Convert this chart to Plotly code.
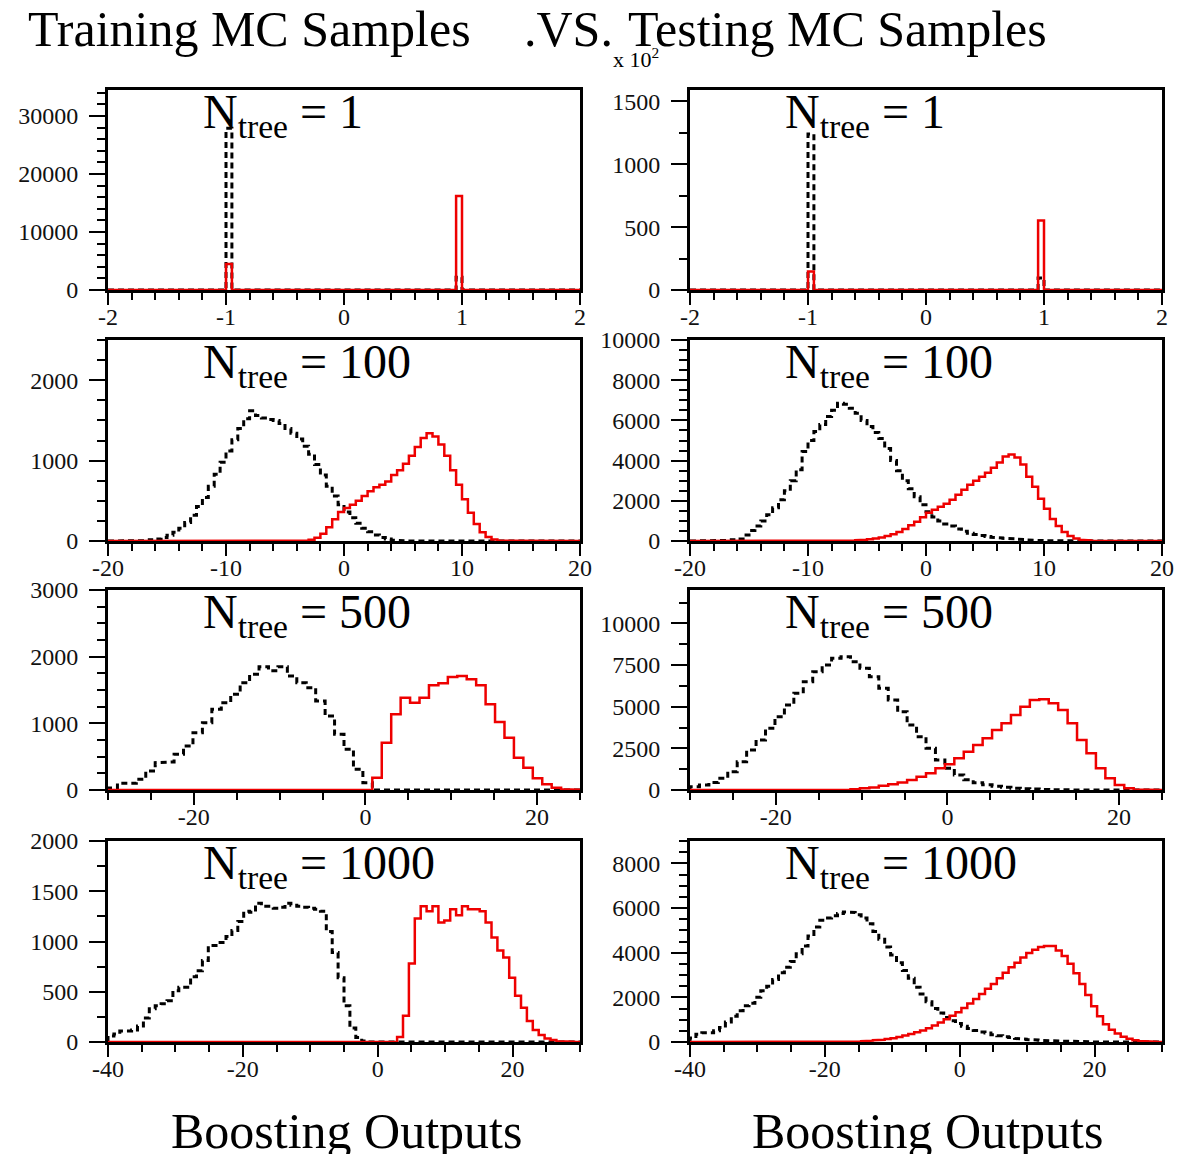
import plotly.graph_objects as go

# ---------------- data ----------------
# N_tree = 1 : two isolated bins (lower edges), width 0.05
nt1_bin_lo = [-1.0, 0.95]
nt1_bin_w = 0.05
nt1_train_bkg = [27900, 2200]
nt1_train_sig = [4500, 16200]
nt1_test_bkg = [1240, 96]      # in units of 10^2
nt1_test_sig = [147, 552]      # in units of 10^2

# N_tree = 100 : bins of width 0.5
nt100_bin_w = 0.5
nt100_train_bkg_start = -17.0
nt100_train_bkg = [5, 15, 25, 45, 70, 110, 160, 230, 320, 430, 540, 680, 830, 980, 1120,
                   1260, 1400, 1520, 1620, 1560, 1530, 1510, 1500, 1460, 1400, 1340, 1270,
                   1180, 1080, 950, 820, 680, 560, 450, 360, 290, 220, 160, 115, 75, 45, 25, 12, 5]
nt100_train_sig_start = -3.5
nt100_train_sig = [5, 15, 40, 90, 170, 270, 360, 410, 450, 500, 560, 620, 670, 700, 740, 820,
                   880, 960, 1060, 1170, 1280, 1340, 1300, 1200, 1060, 880, 700, 520, 350, 210,
                   110, 50, 20, 5]
nt100_test_bkg_start = -17.0
nt100_test_bkg = [30, 60, 100, 300, 520, 750, 1000, 1300, 1650, 2050, 2500, 3000, 3550, 4450,
                  5000, 5450, 5800, 6200, 6500, 6850, 6800, 6600, 6350, 6000, 5700, 5400, 5100,
                  4600, 4000, 3500, 3000, 2600, 2200, 1800, 1450, 1200, 1000, 850, 750, 600, 480,
                  380, 320, 270, 220, 180, 150, 130, 110, 90, 70, 50, 35, 20, 10]
nt100_test_sig_start = -7.5
nt100_test_sig = [10, 20, 30, 45, 65, 90, 130, 180, 250, 340, 450, 600, 780, 960, 1180, 1400,
                  1550, 1700, 1850, 2050, 2300, 2550, 2800, 3000, 3200, 3400, 3650, 3900, 4200,
                  4300, 4150, 3800, 3200, 2700, 2100, 1600, 1100, 750, 450, 250, 130, 60, 25, 8]

# N_tree = 500 : bins of width 1.1
nt500_bin_w = 1.1
nt500_train_bkg_start = -30.0
nt500_train_bkg = [30, 100, 100, 160, 285, 410, 420, 535, 660, 860, 1010, 1210, 1310, 1435,
                   1610, 1735, 1850, 1790, 1850, 1710, 1610, 1535, 1335, 1110, 835, 610, 310, 110]
nt500_train_sig_start = 0.8
nt500_train_sig = [185, 710, 1135, 1385, 1310, 1385, 1570, 1600, 1695, 1710, 1660, 1570, 1285,
                   1020, 785, 485, 335, 175, 85, 35, 10, 3]
nt500_test_bkg_start = -30.0
nt500_test_bkg = [200, 300, 450, 700, 1100, 1700, 2400, 3000, 3700, 4400, 5100, 5800, 6500,
                  7100, 7500, 7900, 8000, 7700, 7300, 6800, 6100, 5400, 4700, 3900, 3200, 2500,
                  1800, 1300, 900, 620, 430, 320, 230, 160, 110, 80, 55, 35, 20, 10, 5]
nt500_test_sig_start = -11.3
nt500_test_sig = [50, 100, 150, 250, 350, 450, 600, 800, 1000, 1300, 1550, 1900, 2300, 2700,
                  3100, 3600, 4000, 4500, 5000, 5400, 5450, 5200, 4800, 4000, 3000, 2200, 1300,
                  700, 300, 100, 30, 10]

# N_tree = 1000 : bins of width 0.875
nt1000_bin_w = 0.875
nt1000_train_bkg_start = -40.0
nt1000_train_bkg = [60, 80, 110, 110, 120, 160, 240, 330, 360, 380, 410, 510, 545, 545, 650,
                    710, 810, 960, 960, 990, 1050, 1110, 1200, 1300, 1290, 1380, 1350, 1350,
                    1330, 1340, 1380, 1360, 1350, 1340, 1330, 1320, 1300, 1100, 890, 640, 360,
                    140, 45, 10]
nt1000_train_sig_start = 2.875
nt1000_train_sig = [50, 260, 780, 1230, 1350, 1300, 1350, 1190, 1210, 1320, 1260, 1350, 1320,
                    1320, 1300, 1190, 1040, 910, 840, 640, 460, 340, 210, 120, 70, 35, 20, 8, 5, 2, 0]
nt1000_test_bkg_start = -40.0
nt1000_test_bkg = [180, 350, 410, 410, 500, 650, 900, 1150, 1400, 1620, 1730, 2000, 2300, 2500,
                   2800, 3100, 3350, 3600, 3950, 4300, 4750, 5150, 5450, 5550, 5650, 5750, 5820,
                   5800, 5700, 5550, 5300, 4950, 4600, 4250, 3900, 3550, 3200, 2850, 2450, 2150,
                   1800, 1500, 1300, 1100, 950, 830, 700, 600, 520, 450, 400, 330, 280, 240, 200,
                   160, 130, 110, 90, 75, 60, 50, 45, 40, 30, 20, 15, 10, 5]
nt1000_test_sig_start = -15.5
nt1000_test_sig = [20, 40, 60, 80, 100, 130, 170, 220, 290, 360, 440, 520, 620, 740, 870, 1020,
                   1170, 1330, 1520, 1720, 1930, 2150, 2380, 2600, 2850, 3100, 3350, 3550, 3780,
                   3980, 4130, 4250, 4300, 4300, 4100, 3850, 3500, 3080, 2600, 2100, 1600, 1150,
                   800, 550, 380, 240, 150, 80, 40, 20, 8, 3]

ntree_labels = ["1", "100", "500", "1000"]
title_left = "Training MC Samples"
title_mid = ".VS."
title_right = "Testing MC Samples"
xaxis_title = "Boosting Outputs"

# tick labels per row (x) and per panel (y)
row_xticks = [[-2, -1, 0, 1, 2], [-20, -10, 0, 10, 20], [-20, 0, 20], [-40, -20, 0, 20]]
panel_yticks = [
    [[0, 10000, 20000, 30000], [0, 500, 1000, 1500]],
    [[0, 1000, 2000], [0, 2000, 4000, 6000, 8000, 10000]],
    [[0, 1000, 2000, 3000], [0, 2500, 5000, 7500, 10000]],
    [[0, 500, 1000, 1500, 2000], [0, 2000, 4000, 6000, 8000]],
]

# ---------------- helpers ----------------
def contiguous(start, width, counts):
    return [start + i * width for i in range(len(counts))]


def hist_path(lows, width, counts, xmin, xmax):
    xs, ys = [xmin], [0]
    prev_end = None
    for lo, c in zip(lows, counts):
        if prev_end is None or abs(lo - prev_end) > 1e-9:
            if prev_end is not None:
                xs.append(prev_end); ys.append(0)
            xs.append(lo); ys.append(0)
        xs += [lo, lo + width]
        ys += [c, c]
        prev_end = lo + width
    xs += [prev_end, xmax]
    ys += [0, 0]
    return xs, ys


W, H = 1182, 1154
col_px = [(108, 580), (690, 1162)]
row_px = [(90, 290), (340, 541), (590, 790), (841, 1042)]

row_x = [
    dict(range=[-2, 2], minor=0.2, tick0=-2),
    dict(range=[-20, 20], minor=2, tick0=-20),
    dict(range=[-30, 25], minor=5, tick0=-30),
    dict(range=[-40, 30], minor=5, tick0=-40),
]
panel_y = [
    [dict(range=[0, 34500], minor=2000), dict(range=[0, 1590], minor=250)],
    [dict(range=[0, 2500], minor=250), dict(range=[0, 10000], minor=500)],
    [dict(range=[0, 3000], minor=250), dict(range=[0, 12000], minor=1250)],
    [dict(range=[0, 2000], minor=250), dict(range=[0, 9000], minor=500)],
]

panel_data = [
    [(nt1_bin_lo, nt1_bin_w, nt1_train_bkg, nt1_bin_lo, nt1_train_sig),
     (nt1_bin_lo, nt1_bin_w, nt1_test_bkg, nt1_bin_lo, nt1_test_sig)],
    [(contiguous(nt100_train_bkg_start, nt100_bin_w, nt100_train_bkg), nt100_bin_w, nt100_train_bkg,
      contiguous(nt100_train_sig_start, nt100_bin_w, nt100_train_sig), nt100_train_sig),
     (contiguous(nt100_test_bkg_start, nt100_bin_w, nt100_test_bkg), nt100_bin_w, nt100_test_bkg,
      contiguous(nt100_test_sig_start, nt100_bin_w, nt100_test_sig), nt100_test_sig)],
    [(contiguous(nt500_train_bkg_start, nt500_bin_w, nt500_train_bkg), nt500_bin_w, nt500_train_bkg,
      contiguous(nt500_train_sig_start, nt500_bin_w, nt500_train_sig), nt500_train_sig),
     (contiguous(nt500_test_bkg_start, nt500_bin_w, nt500_test_bkg), nt500_bin_w, nt500_test_bkg,
      contiguous(nt500_test_sig_start, nt500_bin_w, nt500_test_sig), nt500_test_sig)],
    [(contiguous(nt1000_train_bkg_start, nt1000_bin_w, nt1000_train_bkg), nt1000_bin_w, nt1000_train_bkg,
      contiguous(nt1000_train_sig_start, nt1000_bin_w, nt1000_train_sig), nt1000_train_sig),
     (contiguous(nt1000_test_bkg_start, nt1000_bin_w, nt1000_test_bkg), nt1000_bin_w, nt1000_test_bkg,
      contiguous(nt1000_test_sig_start, nt1000_bin_w, nt1000_test_sig), nt1000_test_sig)],
]

FONT = "Liberation Serif"
TICKFONT = dict(family=FONT, size=24, color="#111")
fig = go.Figure()
layout = dict(
    width=W, height=H, margin=dict(l=0, r=0, t=0, b=0, autoexpand=False),
    paper_bgcolor="white", plot_bgcolor="white", showlegend=False,
    font=dict(family=FONT, color="black"),
)
annotations = []

for r in range(4):
    for c in range(2):
        n = r * 2 + c + 1
        sfx = "" if n == 1 else str(n)
        x0, x1 = col_px[c]
        y0, y1 = row_px[r]
        xr = row_x[r]
        yr = panel_y[r][c]
        blo, bw, bkg, slo, sig = panel_data[r][c]
        bx, by = hist_path(blo, bw, bkg, xr["range"][0], xr["range"][1])
        sx, sy = hist_path(slo, bw, sig, xr["range"][0], xr["range"][1])
        fig.add_trace(go.Scatter(x=bx, y=by, mode="lines", xaxis="x" + sfx, yaxis="y" + sfx,
                                 line=dict(color="black", width=3, dash="6px,4px"),
                                 hoverinfo="skip"))
        fig.add_trace(go.Scatter(x=sx, y=sy, mode="lines", xaxis="x" + sfx, yaxis="y" + sfx,
                                 line=dict(color="#ee0000", width=2.5), hoverinfo="skip"))
        xt = row_xticks[r]
        yt = panel_yticks[r][c]
        layout["xaxis" + sfx] = dict(
            domain=[x0 / W, x1 / W], anchor="y" + sfx, range=xr["range"],
            tickmode="array", tickvals=xt, ticktext=[f"{v:g}" for v in xt],
            ticks="outside", ticklen=12, tickwidth=1.5, ticklabelstandoff=-9,
            tickcolor="black", showline=True, linewidth=3, linecolor="black", mirror=True,
            showgrid=False, zeroline=False, layer="below traces", tickfont=TICKFONT,
            minor=dict(tickmode="linear", dtick=xr["minor"], tick0=xr["tick0"], ticks="outside",
                       ticklen=7, tickwidth=1.5, tickcolor="black", showgrid=False),
        )
        layout["yaxis" + sfx] = dict(
            domain=[1 - y1 / H, 1 - y0 / H], anchor="x" + sfx, range=yr["range"],
            tickmode="array", tickvals=yt, ticktext=[f"{v:d}" for v in yt],
            ticks="outside", ticklen=16, tickwidth=1.5,
            tickcolor="black", showline=True, linewidth=3, linecolor="black", mirror=True,
            showgrid=False, zeroline=False, layer="below traces", ticklabelstandoff=6,
            tickfont=TICKFONT,
            minor=dict(tickmode="linear", dtick=yr["minor"], tick0=0, ticks="outside", ticklen=8,
                       tickwidth=1.5, tickcolor="black", showgrid=False),
        )
        annotations.append(dict(
            text="N<sub>tree</sub> = " + ntree_labels[r], xref="paper", yref="paper",
            x=(x0 + 93) / W, y=1 - (y0 - 7) / H, xanchor="left", yanchor="top",
            showarrow=False, font=dict(family=FONT, size=48, color="black")))

annotations += [
    dict(text=title_left, xref="paper", yref="paper", x=26 / W, y=1 - 29 / H,
         xanchor="left", yanchor="middle", showarrow=False,
         font=dict(family=FONT, size=50, color="black")),
    dict(text=title_mid, xref="paper", yref="paper", x=522 / W, y=1 - 29 / H,
         xanchor="left", yanchor="middle", showarrow=False,
         font=dict(family=FONT, size=50, color="black")),
    dict(text=title_right, xref="paper", yref="paper", x=626 / W, y=1 - 29 / H,
         xanchor="left", yanchor="middle", showarrow=False,
         font=dict(family=FONT, size=50, color="black")),
    dict(text="x 10<sup>2</sup>", xref="paper", yref="paper", x=611 / W, y=1 - 58 / H,
         xanchor="left", yanchor="middle", showarrow=False,
         font=dict(family=FONT, size=22, color="black")),
    dict(text=xaxis_title, xref="paper", yref="paper", x=346 / W, y=1 - 1131 / H,
         xanchor="center", yanchor="middle", showarrow=False,
         font=dict(family=FONT, size=50, color="black")),
    dict(text=xaxis_title, xref="paper", yref="paper", x=927 / W, y=1 - 1131 / H,
         xanchor="center", yanchor="middle", showarrow=False,
         font=dict(family=FONT, size=50, color="black")),
]
layout["annotations"] = annotations
fig.update_layout(**layout)
fig.write_html("out.html")
